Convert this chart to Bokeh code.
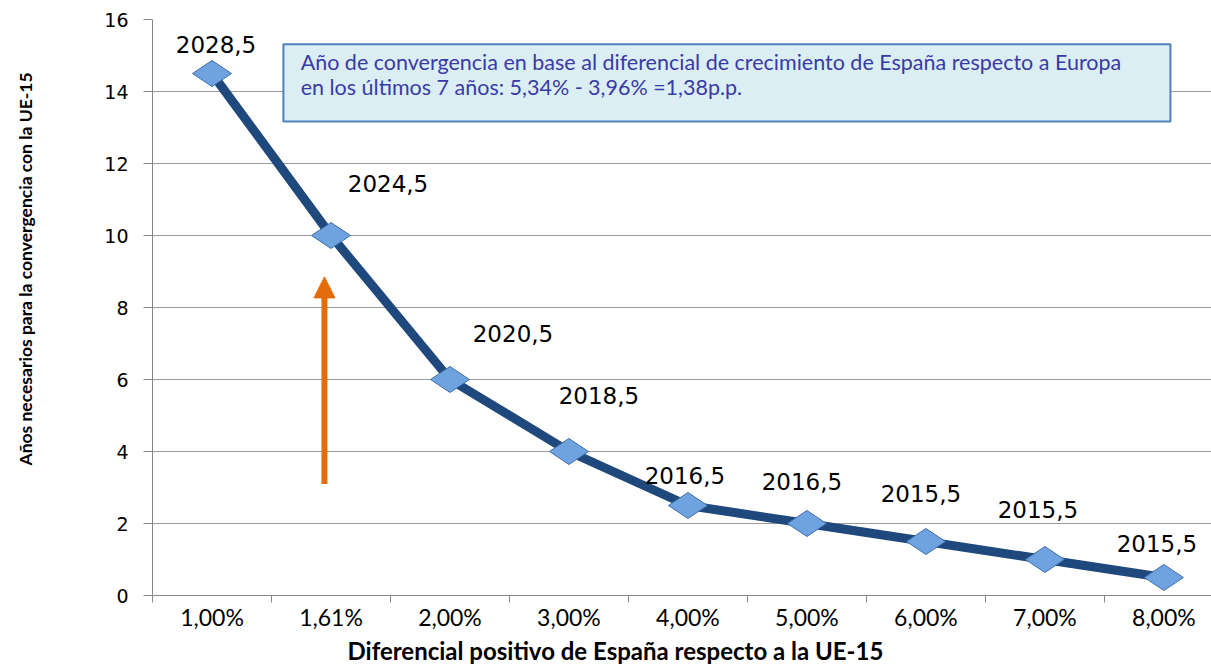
import numpy as np
from bokeh.plotting import figure
from bokeh.models import (ColumnDataSource, Range1d, FixedTicker, BoxAnnotation,
                          Label, Arrow, NormalHead, Title)
from bokeh.core.properties import value
from bokeh.embed import file_html
from bokeh.resources import INLINE

# ---- data ----
categories = ["1,00%", "1,61%", "2,00%", "3,00%", "4,00%", "5,00%", "6,00%", "7,00%", "8,00%"]
years_needed = [14.5, 10, 6, 4, 2.5, 2, 1.5, 1, 0.5]
year_labels = ["2028,5", "2024,5", "2020,5", "2018,5", "2016,5", "2016,5", "2015,5", "2015,5", "2015,5"]
y_ticks = [0, 2, 4, 6, 8, 10, 12, 14, 16]

box_text_1 = "Año de convergencia en base al diferencial de crecimiento de España respecto a Europa"
box_text_2 = "en los últimos 7 años: 5,34% - 3,96% =1,38p.p."
x_title = "Diferencial positivo de España respecto a la UE-15"
y_title = "Años necesarios para la convergencia con la UE-15"

# label placement (screen px offsets relative to each point)
label_dx = [4, 57, 63, 30, -3, -5, -5, -7, -7]
label_dy = [-29, -52, -46, -56, -30, -42, -48, -50, -34]

xs = list(range(len(categories)))
src = ColumnDataSource(dict(x=xs, y=years_needed, lab=year_labels, dx=label_dx, dy=label_dy))

p = figure(width=1211, height=664, output_backend="svg", toolbar_location=None,
           x_range=Range1d(-0.5, 8.40), y_range=Range1d(0, 16),
           min_border_left=152, min_border_right=0, min_border_top=19, min_border_bottom=68)
p.outline_line_color = None
p.background_fill_color = "white"

# axes
p.xaxis.ticker = FixedTicker(ticks=xs, minor_ticks=[i - 0.5 for i in range(len(categories) + 1)])
p.xaxis.major_label_overrides = {i: c for i, c in enumerate(categories)}
p.xaxis.major_tick_out = 0
p.xaxis.major_tick_in = 0
p.xaxis.minor_tick_out = 7
p.xaxis.minor_tick_in = 0
p.xaxis.major_label_standoff = 0
p.xaxis.major_label_text_font = "Lato"
p.xaxis.major_label_text_font_size = "23px"
p.xaxis.major_label_text_color = "black"
p.xaxis.axis_line_color = "#868686"
p.xaxis.minor_tick_line_color = "#868686"

p.yaxis.ticker = FixedTicker(ticks=y_ticks)
p.yaxis.major_tick_out = 9
p.yaxis.major_tick_in = 0
p.yaxis.minor_tick_line_color = None
p.yaxis.major_label_standoff = 15
p.yaxis.major_label_text_font = "DejaVu Sans"
p.yaxis.major_label_text_font_size = "19px"
p.yaxis.major_label_text_color = "black"
p.yaxis.axis_line_color = "#868686"
p.yaxis.major_tick_line_color = "#868686"

p.xgrid.grid_line_color = None
p.ygrid.grid_line_color = "#9A9A9A"
p.ygrid.grid_line_width = 1

# annotation box
box = BoxAnnotation(left=0.60, right=8.055, top=15.31, bottom=13.17,
                    fill_color="#DBEEF4", fill_alpha=1.0,
                    line_color="#4F81BD", line_width=2, line_alpha=1.0)
p.add_layout(box)
p.add_layout(Label(x=0.745, y=14.81, text=box_text_1, text_font="Lato",
                   text_font_size="21.5px", text_color="#3A3AA6", text_baseline="middle"))
p.add_layout(Label(x=0.745, y=14.12, text=box_text_2, text_font="Lato",
                   text_font_size="21.5px", text_color="#3A3AA6", text_baseline="middle"))

# orange arrow
arrow_x = 0.945
arrow_y_from = 3.1
arrow_y_to = 8.85
p.add_layout(Arrow(end=NormalHead(size=21, fill_color="#E46C0A", line_color="#E46C0A"),
                   x_start=arrow_x, y_start=arrow_y_from, x_end=arrow_x, y_end=arrow_y_to,
                   line_color="#E46C0A", line_width=6))

# series
p.line("x", "y", source=src, line_width=9, line_color="#1F497D", line_join="round")
p.scatter("x", "y", source=src, marker="diamond", size=39, angle=np.pi / 2,
          fill_color="#6FA3E0", line_color="#3F6FAE", line_width=1)
p.text("x", "y", text="lab", source=src, x_offset="dx", y_offset="dy",
       text_font=value("DejaVu Sans"), text_font_size="23px", text_color="black",
       text_align="center", text_baseline="middle")

# axis titles
p.add_layout(Title(text=x_title, align="left", offset=195, standoff=0,
                   text_line_height=1.0,
                   text_font="Lato", text_font_style="bold", text_font_size="24px",
                   text_color="black"), "below")
# white (invisible) spacer between the y axis and its title
p.add_layout(Title(text=".", standoff=63, text_font_size="2px", text_color="white",
                   text_line_height=1.0), "left")
p.add_layout(Title(text=y_title, align="left", offset=130, standoff=0,
                   text_line_height=1.0,
                   text_font="Lato", text_font_style="bold", text_font_size="17.5px",
                   text_color="black"), "left")

open("out.html", "w").write(file_html(p, INLINE))
